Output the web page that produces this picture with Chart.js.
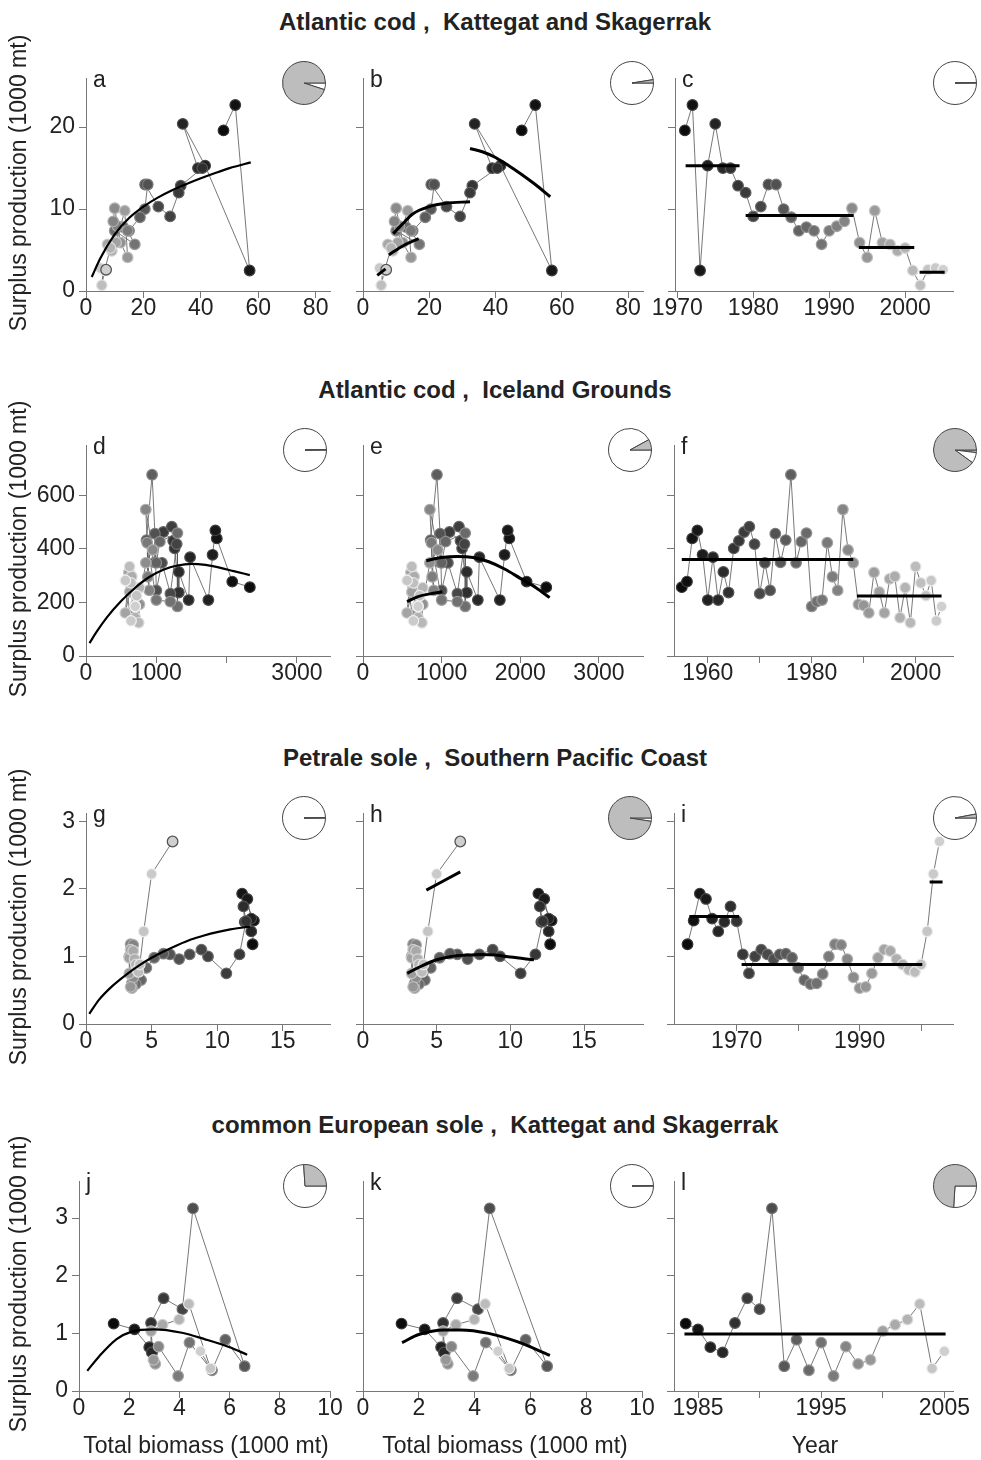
<!DOCTYPE html>
<html>
<head>
<meta charset="utf-8">
<title>Surplus production vs biomass</title>
<script src="https://cdn.jsdelivr.net/npm/chart.js@4.4.1/dist/chart.umd.min.js"></script>
<style>
    body { margin: 0; background: #fff; }
    #page { position: relative; width: 981px; height: 1460px; font-family: "Liberation Sans", Arial, sans-serif; color: #222; overflow: hidden; }
    .title { position: absolute; left: 0; width: 990px; text-align: center; font-size: 24px; font-weight: bold; line-height: 28px; white-space: pre; }
    .ylab { position: absolute; left: 18px; transform: translate(-50%, -50%) rotate(-90deg); font-size: 23px; white-space: nowrap; }
    .xlab { position: absolute; transform: translate(-50%, -50%); font-size: 23px; white-space: nowrap; }
    .letter { position: absolute; font-size: 23px; line-height: 23px; }
    canvas { position: absolute; }
</style>
</head>
<body>
<div id="page"></div>
<script>
//--------------------------------------------------------------------------------------//
//--------------------------------------- Data -----------------------------------------//
//--------------------------------------------------------------------------------------//
// ----* Atlantic cod, Kattegat and Skagerrak *---- //
var katYears = [1971, 1972, 1973, 1974, 1975, 1976, 1977, 1978, 1979, 1980, 1981, 1982, 1983, 1984, 1985, 1986, 1987, 1988,
    1989, 1990, 1991, 1992, 1993, 1994, 1995, 1996, 1997, 1998, 1999, 2000, 2001, 2002, 2003, 2004, 2005];
var katSP = [19.6, 22.7, 2.5, 15.3, 20.4, 15.0, 15.0, 12.85, 12.0, 9.1, 10.3, 13.0, 13.0, 10.0, 9.0, 7.35, 7.8, 7.35,
    5.7, 7.35, 7.9, 8.5, 10.1, 5.9, 4.1, 9.8, 5.9, 5.7, 4.9, 5.25, 2.5, 0.7, 2.6, 2.8, 2.6];
var katBiomass = [47.9, 52.0, 57.0, 41.5, 33.7, 39.0, 40.5, 33.0, 32.3, 29.3, 25.2, 20.6, 21.5, 20.5, 18.8, 15.0, 13.0, 10.0,
    17.0, 14.5, 11.0, 9.5, 10.0, 12.0, 14.5, 13.5, 10.5, 7.5, 9.0, 8.5, 6.5, 5.5, 6.0, 5.0, 7.0];
var katFitA = [[2, 1.7], [5, 4.0], [10, 6.9], [15, 8.9], [20, 10.3], [25, 11.4], [30, 12.3], [35, 13.05], [40, 13.75],
    [45, 14.4], [50, 15.0], [57.4, 15.7]];
var katFitB = [
    [[4.3, 1.9], [6.8, 2.7]],
    [[7.8, 4.4], [12, 5.5], [16.8, 6.4]],
    [[9.1, 7.0], [12, 8.2], [15, 9.4], [20, 10.3], [25, 10.7], [32.3, 10.9]],
    [[32.3, 17.4], [36, 17.0], [40, 16.3], [44, 15.3], [48, 14.2], [52, 13.0], [56.5, 11.5]]
];
var katRegimes = [[1971.1, 1978.2, 15.3], [1979.0, 1993.2, 9.2], [1993.9, 2001.2, 5.3], [2001.9, 2005.2, 2.3]];

// ----* Atlantic cod, Iceland Grounds *---- //
var iceYears = [1955, 1956, 1957, 1958, 1959, 1960, 1961, 1962, 1963, 1964, 1965, 1966, 1967, 1968, 1969, 1970, 1971,
    1972, 1973, 1974, 1975, 1976, 1977, 1978, 1979, 1980, 1981, 1982, 1983, 1984, 1985, 1986, 1987, 1988, 1989, 1990,
    1991, 1992, 1993, 1994, 1995, 1996, 1997, 1998, 1999, 2000, 2001, 2002, 2003, 2004, 2005];
var iceSP = [257, 278, 439, 469, 378, 209, 369, 209, 314, 237, 402, 430, 463, 483, 418, 233, 348, 245, 457, 350, 433, 677,
    348, 427, 459, 185, 203, 209, 423, 296, 245, 547, 396, 348, 193, 189, 161, 312, 239, 161, 288, 297, 143, 255, 124,
    334, 273, 225, 282, 131, 185];
var iceBiomass = [2330, 2080, 1860, 1840, 1800, 1740, 1480, 1460, 1320, 1320, 1260, 1240, 1100, 1220, 1290, 1200, 1080,
    1000, 980, 980, 860, 940, 1000, 1050, 1300, 1300, 1200, 1000, 870, 880, 900, 850, 950, 850, 760, 700, 680, 610, 620,
    560, 600, 650, 700, 760, 750, 620, 640, 720, 560, 640, 700];
var iceFitD = [[50, 48], [150, 90], [300, 145], [500, 205], [700, 255], [900, 295], [1100, 322], [1300, 338], [1500, 344],
    [1700, 340], [1900, 330], [2100, 317], [2330, 302]];
var iceFitE = [
    [[560, 203], [700, 222], [850, 232], [1010, 240]],
    [[805, 356], [1000, 368], [1200, 372], [1400, 368], [1600, 352], [1800, 325], [2000, 290], [2200, 255], [2373, 218]]
];
var iceRegimes = [[1955, 1988, 360], [1988.7, 2005, 224]];

// ----* Petrale sole, Southern Pacific Coast *---- //
var petYears = [1962, 1963, 1964, 1965, 1966, 1967, 1968, 1969, 1970, 1971, 1972, 1973, 1974, 1975, 1976, 1977, 1978,
    1979, 1980, 1981, 1982, 1983, 1984, 1985, 1986, 1987, 1988, 1989, 1990, 1991, 1992, 1993, 1994, 1995, 1996, 1997,
    1998, 1999, 2000, 2001, 2002, 2003];
var petSP = [1.18, 1.53, 1.93, 1.85, 1.56, 1.37, 1.51, 1.74, 1.52, 1.03, 0.75, 1.00, 1.10, 1.03, 0.96, 1.03, 1.04, 0.98,
    0.83, 0.65, 0.59, 0.60, 0.74, 1.00, 1.18, 1.17, 0.96, 0.69, 0.53, 0.55, 0.75, 0.98, 1.10, 1.08, 0.96, 0.88, 0.80,
    0.77, 0.88, 1.37, 2.22, 2.70];
var petBiomass = [12.7, 12.8, 11.9, 12.3, 12.6, 12.6, 12.1, 12.0, 12.2, 11.7, 10.7, 9.3, 8.8, 7.9, 7.1, 6.4, 5.9, 5.2,
    4.6, 4.2, 3.8, 3.5, 3.4, 3.3, 3.4, 3.6, 3.7, 3.6, 3.5, 3.4, 3.3, 3.3, 3.4, 3.6, 3.7, 3.8, 3.9, 4.0, 4.1, 4.4, 5.0, 6.6];
var petFitG = [[0.25, 0.15], [1, 0.36], [2, 0.56], [3, 0.72], [4, 0.86], [5, 0.98], [6, 1.08], [7, 1.17], [8, 1.25],
    [9, 1.31], [10, 1.36], [11, 1.40], [12.5, 1.44]];
var petFitH = [
    [[4.3, 1.98], [6.6, 2.25]],
    [[3.0, 0.75], [4, 0.86], [5, 0.95], [6, 1.0], [7, 1.02], [8, 1.03], [9, 1.02], [10, 0.99], [11.6, 0.95]]
];
var petRegimes = [[1962.3, 1970.4, 1.59], [1970.8, 2000.2, 0.88], [2001.4, 2003.5, 2.10]];

// ----* common European sole, Kattegat and Skagerrak *---- //
var solYears = [1984, 1985, 1986, 1987, 1988, 1989, 1990, 1991, 1992, 1993, 1994, 1995, 1996, 1997, 1998, 1999, 2000,
    2001, 2002, 2003, 2004, 2005];
var solSP = [1.17, 1.07, 0.76, 0.67, 1.18, 1.61, 1.42, 3.17, 0.43, 0.89, 0.36, 0.84, 0.26, 0.77, 0.47, 0.54, 1.04, 1.15,
    1.24, 1.51, 0.39, 0.69];
var solBiomass = [1.38, 2.21, 2.8, 2.9, 2.87, 3.37, 4.12, 4.54, 6.6, 5.83, 5.3, 4.4, 3.95, 3.17, 3.04, 2.97, 2.87, 3.33,
    3.99, 4.38, 5.24, 4.84];
var solFitJ = [[0.33, 0.35], [0.8, 0.6], [1.5, 0.9], [2.1, 1.03], [3.0, 1.07], [4.1, 1.01], [5.0, 0.9], [6.0, 0.76], [6.7, 0.63]];
var solFitK = [[1.4, 0.84], [2.0, 0.98], [2.9, 1.06], [3.5, 1.06], [4.5, 1.0], [5.5, 0.86], [6.7, 0.62]];
var solRegimes = [[1983.9, 2005.1, 0.99]];

// ----* Pie insets: slice shares, counter-clockwise from 3 o'clock *---- //
var pieShares = {
    a: [95, 5], b: [2.5, 97.5], c: [0.3, 99.7],
    d: [0.3, 99.7], e: [8, 92], f: [90, 8, 2],
    g: [0.3, 99.7], h: [97.5, 2.5], i: [3, 97],
    j: [26, 74], k: [0.3, 99.7], l: [74, 26]
};

// ----* Tick values *---- //
var ticksCodB = [0, 20, 40, 60, 80];
var ticksCodY = [0, 10, 20];
var ticksKatYear = [1970, 1980, 1990, 2000];
var ticksIceB = [0, 1000, 2000, 3000];
var ticksIceY = [0, 200, 400, 600];
var ticksIceYear = [1960, 1970, 1980, 1990, 2000];
var ticksPetB = [0, 5, 10, 15];
var ticksPetY = [0, 1, 2, 3];
var ticksPetYear = [1970, 1980, 1990, 2000];
var ticksSolB = [0, 2, 4, 6, 8, 10];
var ticksSolY = [0, 1, 2, 3];
var ticksSolYear = [1985, 1990, 1995, 2000, 2005];

//--------------------------------------------------------------------------------------//
//------------------------------------- Helpers ----------------------------------------//
//--------------------------------------------------------------------------------------//
var page = document.getElementById('page');
var GREY = '#bdbdbd';
var FONT = '"Liberation Sans", Arial, sans-serif';

// dark for the first year, light grey for the last
function greyLevels(n) {
    var out = [];
    for (var i = 0; i < n; i++) {
        out.push(Math.round(12 + 195 * i / (n - 1)));
    }
    return out;
}
function rgb(v) {
    v = Math.min(255, v);
    return 'rgb(' + v + ',' + v + ',' + v + ')';
}

function seriesSet(xs, ys, openLast) {
    var lv = greyLevels(xs.length);
    var cols = lv.map(rgb);
    var borders = lv.map(function (v) { return rgb(v + 40); });
    var bw = cols.map(function () { return 1.2; });
    if (openLast) {
        borders[borders.length - 1] = '#555';
        bw[bw.length - 1] = 1.3;
    }
    return {
        data: xs.map(function (x, i) { return { x: x, y: ys[i] }; }),
        showLine: true,
        borderColor: '#555',
        borderWidth: 0.8,
        pointRadius: 5.3,
        pointBackgroundColor: cols,
        pointBorderColor: borders,
        pointBorderWidth: bw,
        order: 2
    };
}

function fitSet(pts, width) {
    return {
        data: pts.map(function (p) { return { x: p[0], y: p[1] }; }),
        showLine: true,
        borderColor: '#000',
        borderWidth: width,
        pointRadius: 0,
        cubicInterpolationMode: 'monotone',
        order: 1
    };
}

function regimeSets(regs) {
    return regs.map(function (r) { return fitSet([[r[0], r[2]], [r[1], r[2]]], 3); });
}

function axis(min, max, ticks, labelled, horiz, size) {
    return {
        type: 'linear', min: min, max: max,
        border: { display: true, color: '#777', width: 1 },
        grid: { display: true, drawOnChartArea: false, drawTicks: true, tickLength: 7, color: '#777', lineWidth: 1 },
        ticks: {
            color: '#222', font: { family: FONT, size: 23 }, padding: horiz ? -3 : 4,
            maxRotation: 0, autoSkip: false,
            callback: function (v) { return labelled.indexOf(v) >= 0 ? String(v) : ''; }
        },
        afterBuildTicks: function (s) { s.ticks = ticks.map(function (v) { return { value: v }; }); },
        afterFit: function (s) { if (horiz) { s.height = size; } else { s.width = size; } }
    };
}

function makePanel(p) {
    var padL = 60, padT = 14, padR = 36, padB = 44;
    var w = p.area[2] - p.area[0], h = p.area[3] - p.area[1];
    var cv = document.createElement('canvas');
    cv.width = w + padL + padR;
    cv.height = h + padT + padB;
    cv.style.left = (p.area[0] - padL) + 'px';
    cv.style.top = (p.area[1] - padT) + 'px';
    page.appendChild(cv);
    new Chart(cv, {
        type: 'scatter',
        data: { datasets: p.datasets },
        options: {
            responsive: false, animation: false, events: [],
            layout: { padding: { left: 0, top: padT, right: padR, bottom: 0 } },
            plugins: { legend: { display: false }, tooltip: { enabled: false } },
            scales: {
                x: axis(p.x[0], p.x[1], p.xticks, p.xlab, true, padB),
                y: axis(0, p.ymax, p.yticks, p.ylab, false, padL)
            }
        }
    });
    var lt = document.createElement('div');
    lt.className = 'letter';
    lt.textContent = p.letter;
    lt.style.left = (p.area[0] + 7) + 'px';
    lt.style.top = (p.area[1] - 7) + 'px';
    page.appendChild(lt);
}

// R draws pies counter-clockwise from 3 o'clock; Chart.js goes clockwise, so reverse
function makePie(cx, cy, shares) {
    var cols = shares.map(function (s, i) { return i % 2 === 0 ? GREY : '#fff'; });
    var cv = document.createElement('canvas');
    cv.width = 46; cv.height = 46;
    cv.style.left = (cx - 23) + 'px';
    cv.style.top = (cy - 23) + 'px';
    page.appendChild(cv);
    new Chart(cv, {
        type: 'pie',
        data: { datasets: [{ data: shares.slice().reverse(), backgroundColor: cols.slice().reverse(), borderColor: '#444', borderWidth: 1 }] },
        options: {
            responsive: false, animation: false, events: [], rotation: 90,
            layout: { padding: 1 },
            plugins: { legend: { display: false }, tooltip: { enabled: false } }
        }
    });
}

function addText(cls, txt, x, y) {
    var d = document.createElement('div');
    d.className = cls;
    d.textContent = txt;
    if (x !== null) { d.style.left = x + 'px'; }
    d.style.top = y + 'px';
    page.appendChild(d);
}

//--------------------------------------------------------------------------------------//
//-------------------------------------- Panels ----------------------------------------//
//--------------------------------------------------------------------------------------//
var none = [];
var panels = [
    // ----* row 1 *---- //
    { letter: 'a', area: [86, 75, 330, 291], x: [0, 85], ymax: 25.9, xticks: ticksCodB, xlab: ticksCodB, yticks: ticksCodY, ylab: ticksCodY,
        datasets: [fitSet(katFitA, 2.2), seriesSet(katBiomass, katSP, true)] },
    { letter: 'b', area: [363, 75, 643, 291], x: [0, 84.5], ymax: 25.9, xticks: ticksCodB, xlab: ticksCodB, yticks: ticksCodY, ylab: none,
        datasets: katFitB.map(function (f) { return fitSet(f, 3); }).concat([seriesSet(katBiomass, katSP, true)]) },
    { letter: 'c', area: [675, 75, 953, 291], x: [1969.7, 2006.3], ymax: 25.9, xticks: ticksKatYear, xlab: ticksKatYear, yticks: ticksCodY, ylab: none,
        datasets: regimeSets(katRegimes).concat([seriesSet(katYears, katSP, false)]) },
    // ----* row 2 *---- //
    { letter: 'd', area: [86, 442, 330, 656], x: [0, 3470], ymax: 785, xticks: ticksIceB, xlab: [0, 1000, 3000], yticks: ticksIceY, ylab: ticksIceY,
        datasets: [fitSet(iceFitD, 2.2), seriesSet(iceBiomass, iceSP, false)] },
    { letter: 'e', area: [363, 442, 643, 656], x: [0, 3560], ymax: 785, xticks: ticksIceB, xlab: ticksIceB, yticks: ticksIceY, ylab: none,
        datasets: iceFitE.map(function (f) { return fitSet(f, 3); }).concat([seriesSet(iceBiomass, iceSP, false)]) },
    { letter: 'f', area: [674, 442, 953, 656], x: [1953.5, 2007.2], ymax: 785, xticks: ticksIceYear, xlab: [1960, 1980, 2000], yticks: ticksIceY, ylab: none,
        datasets: regimeSets(iceRegimes).concat([seriesSet(iceYears, iceSP, false)]) },
    // ----* row 3 *---- //
    { letter: 'g', area: [86, 810, 330, 1024], x: [0, 18.6], ymax: 3.11, xticks: ticksPetB, xlab: ticksPetB, yticks: ticksPetY, ylab: ticksPetY,
        datasets: [fitSet(petFitG, 2.2), seriesSet(petBiomass, petSP, true)] },
    { letter: 'h', area: [363, 810, 643, 1024], x: [0, 19.0], ymax: 3.11, xticks: ticksPetB, xlab: ticksPetB, yticks: ticksPetY, ylab: none,
        datasets: petFitH.map(function (f) { return fitSet(f, 3); }).concat([seriesSet(petBiomass, petSP, true)]) },
    { letter: 'i', area: [674, 810, 953, 1024], x: [1959.8, 2005.2], ymax: 3.11, xticks: ticksPetYear, xlab: [1970, 1990], yticks: ticksPetY, ylab: none,
        datasets: regimeSets(petRegimes).concat([seriesSet(petYears, petSP, false)]) },
    // ----* row 4 *---- //
    { letter: 'j', area: [79, 1178, 330, 1391], x: [0, 10], ymax: 3.63, xticks: ticksSolB, xlab: ticksSolB, yticks: ticksSolY, ylab: ticksSolY,
        datasets: [fitSet(solFitJ, 2.2), seriesSet(solBiomass, solSP, false)] },
    { letter: 'k', area: [363, 1178, 642, 1391], x: [0, 10], ymax: 3.63, xticks: ticksSolB, xlab: ticksSolB, yticks: ticksSolY, ylab: none,
        datasets: [fitSet(solFitK, 3), seriesSet(solBiomass, solSP, false)] },
    { letter: 'l', area: [674, 1178, 953, 1391], x: [1983.05, 2005.7], ymax: 3.63, xticks: ticksSolYear, xlab: [1985, 1995, 2005], yticks: ticksSolY, ylab: none,
        datasets: regimeSets(solRegimes).concat([seriesSet(solYears, solSP, false)]) }
];
panels.forEach(makePanel);

// ----* pie insets *---- //
var pieCentres = {
    a: [304, 83], b: [632, 83], c: [955, 83],
    d: [305, 450], e: [630, 450], f: [955, 450],
    g: [304, 818], h: [630, 818], i: [955, 818],
    j: [305, 1186], k: [632, 1186], l: [955, 1186]
};
Object.keys(pieCentres).forEach(function (k) {
    makePie(pieCentres[k][0], pieCentres[k][1], pieShares[k]);
});

// ----* titles and axis labels *---- //
addText('title', 'Atlantic cod ,  Kattegat and Skagerrak', null, 8);
addText('title', 'Atlantic cod ,  Iceland Grounds', null, 376);
addText('title', 'Petrale sole ,  Southern Pacific Coast', null, 744);
addText('title', 'common European sole ,  Kattegat and Skagerrak', null, 1111);
[183, 549, 917, 1284].forEach(function (y) { addText('ylab', 'Surplus production (1000 mt)', 18, y); });
addText('xlab', 'Total biomass (1000 mt)', 206, 1445);
addText('xlab', 'Total biomass (1000 mt)', 505, 1445);
addText('xlab', 'Year', 815, 1445);
</script>
</body>
</html>
